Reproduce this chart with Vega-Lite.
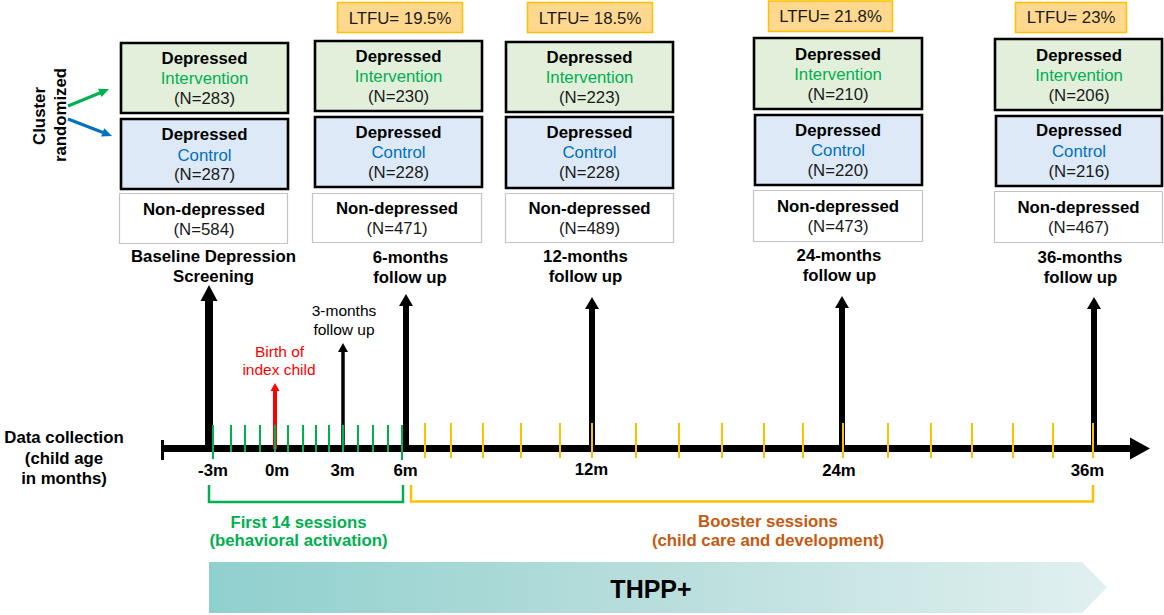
{
  "$schema": "https://vega.github.io/schema/vega-lite/v6.json",
  "width": 1164,
  "height": 615,
  "padding": 0,
  "autosize": {"type": "fit", "contains": "padding"},
  "background": "white",
  "config": {"view": {"stroke": null}},
  "datasets": {
    "band": [
      {"x": 209, "y": 562, "y2": 613},
      {"x": 1082, "y": 562, "y2": 613},
      {"x": 1107, "y": 587.5, "y2": 587.5}
    ],
    "boxes": [
      {"col": "baseline", "kind": "int", "x": 121, "x2": 288, "y": 43, "y2": 113},
      {"col": "baseline", "kind": "ctl", "x": 121, "x2": 288, "y": 119, "y2": 189},
      {"col": "baseline", "kind": "non", "x": 119.5, "x2": 287.5, "y": 193.5, "y2": 243.5},
      {"col": "6m", "kind": "ltfu", "x": 337.5, "x2": 462.5, "y": 2.5, "y2": 32.5},
      {"col": "6m", "kind": "int", "x": 315, "x2": 482, "y": 41, "y2": 111},
      {"col": "6m", "kind": "ctl", "x": 315, "x2": 482, "y": 117, "y2": 187},
      {"col": "6m", "kind": "non", "x": 312.5, "x2": 481.5, "y": 193.5, "y2": 242.5},
      {"col": "12m", "kind": "ltfu", "x": 527.5, "x2": 652.5, "y": 2.5, "y2": 32.5},
      {"col": "12m", "kind": "int", "x": 506, "x2": 673, "y": 42, "y2": 112},
      {"col": "12m", "kind": "ctl", "x": 506, "x2": 673, "y": 117, "y2": 188},
      {"col": "12m", "kind": "non", "x": 505.5, "x2": 673.5, "y": 193.5, "y2": 242.5},
      {"col": "24m", "kind": "ltfu", "x": 768.5, "x2": 892.5, "y": 1, "y2": 31.5},
      {"col": "24m", "kind": "int", "x": 754, "x2": 922, "y": 38, "y2": 109},
      {"col": "24m", "kind": "ctl", "x": 755, "x2": 922, "y": 115, "y2": 185},
      {"col": "24m", "kind": "non", "x": 753.5, "x2": 922.5, "y": 190.5, "y2": 241.5},
      {"col": "36m", "kind": "ltfu", "x": 1015.5, "x2": 1126.5, "y": 2.5, "y2": 32.5},
      {"col": "36m", "kind": "int", "x": 995, "x2": 1162, "y": 39, "y2": 110},
      {"col": "36m", "kind": "ctl", "x": 996, "x2": 1162, "y": 116, "y2": 186},
      {"col": "36m", "kind": "non", "x": 994.5, "x2": 1162.5, "y": 191.5, "y2": 242.5}
    ],
    "timeline": [
      {"x": 162, "x2": 1133, "y": 448.5}
    ],
    "cap": [
      {"x": 162.5, "y": 440, "y2": 460}
    ],
    "axhead": [
      {"x": 1150, "y": 448.5}
    ],
    "shafts": [
      {"kind": "big", "x": 209, "y": 300, "y2": 449},
      {"kind": "mid", "x": 406, "y": 305, "y2": 449},
      {"kind": "mid", "x": 592, "y": 308, "y2": 449},
      {"kind": "mid", "x": 842, "y": 307, "y2": 449},
      {"kind": "mid", "x": 1094, "y": 308, "y2": 449},
      {"kind": "thin", "x": 343, "y": 351, "y2": 449},
      {"kind": "red", "x": 275, "y": 390, "y2": 449}
    ],
    "heads": [
      {"kind": "big", "x": 209, "y": 285},
      {"kind": "mid", "x": 406, "y": 294},
      {"kind": "mid", "x": 592, "y": 297},
      {"kind": "mid", "x": 842, "y": 296},
      {"kind": "mid", "x": 1094, "y": 297},
      {"kind": "thin", "x": 343, "y": 343},
      {"kind": "red", "x": 275, "y": 383}
    ],
    "diag": [
      {"g": "green", "o": 1, "x": 68, "y": 106},
      {"g": "green", "o": 2, "x": 101, "y": 92.5},
      {"g": "blue", "o": 1, "x": 68, "y": 119},
      {"g": "blue", "o": 2, "x": 103, "y": 132.5}
    ],
    "diaghead": [
      {"g": "green", "x": 109, "y": 89},
      {"g": "blue", "x": 112, "y": 136}
    ],
    "ticks": [
      {"kind": "green", "x": 213, "y": 425, "y2": 459},
      {"kind": "green", "x": 231, "y": 425, "y2": 452},
      {"kind": "green", "x": 245, "y": 425, "y2": 452},
      {"kind": "green", "x": 260, "y": 425, "y2": 452},
      {"kind": "green", "x": 275, "y": 425, "y2": 452},
      {"kind": "green", "x": 288, "y": 425, "y2": 452},
      {"kind": "green", "x": 303, "y": 425, "y2": 452},
      {"kind": "green", "x": 316, "y": 425, "y2": 452},
      {"kind": "green", "x": 329, "y": 425, "y2": 452},
      {"kind": "green", "x": 343, "y": 425, "y2": 452},
      {"kind": "green", "x": 358, "y": 425, "y2": 452},
      {"kind": "green", "x": 373, "y": 425, "y2": 452},
      {"kind": "green", "x": 388, "y": 425, "y2": 452},
      {"kind": "green", "x": 402, "y": 425, "y2": 460},
      {"kind": "yellow", "x": 425, "y": 423, "y2": 458},
      {"kind": "yellow", "x": 451, "y": 423, "y2": 458},
      {"kind": "yellow", "x": 483, "y": 423, "y2": 458},
      {"kind": "yellow", "x": 521, "y": 423, "y2": 458},
      {"kind": "yellow", "x": 560, "y": 423, "y2": 458},
      {"kind": "yellow", "x": 592, "y": 423, "y2": 458},
      {"kind": "yellow", "x": 636, "y": 423, "y2": 458},
      {"kind": "yellow", "x": 679, "y": 423, "y2": 458},
      {"kind": "yellow", "x": 722, "y": 423, "y2": 458},
      {"kind": "yellow", "x": 764, "y": 423, "y2": 458},
      {"kind": "yellow", "x": 803, "y": 423, "y2": 458},
      {"kind": "yellow", "x": 843, "y": 423, "y2": 458},
      {"kind": "yellow", "x": 888, "y": 423, "y2": 458},
      {"kind": "yellow", "x": 931, "y": 423, "y2": 458},
      {"kind": "yellow", "x": 972, "y": 423, "y2": 458},
      {"kind": "yellow", "x": 1013, "y": 423, "y2": 458},
      {"kind": "yellow", "x": 1053, "y": 423, "y2": 458},
      {"kind": "yellow", "x": 1093, "y": 423, "y2": 458}
    ],
    "brackets": [
      {"g": "green", "o": 1, "x": 209, "y": 485},
      {"g": "green", "o": 2, "x": 209, "y": 502},
      {"g": "green", "o": 3, "x": 403, "y": 502},
      {"g": "green", "o": 4, "x": 403, "y": 485},
      {"g": "yellow", "o": 1, "x": 411, "y": 485},
      {"g": "yellow", "o": 2, "x": 411, "y": 501.5},
      {"g": "yellow", "o": 3, "x": 1093, "y": 501.5},
      {"g": "yellow", "o": 4, "x": 1093, "y": 485}
    ],
    "texts": [
      {"kind": "bold", "x": 204.5, "y": 64, "label": "Depressed"},
      {"kind": "bold", "x": 204.5, "y": 140, "label": "Depressed"},
      {"kind": "bold", "x": 398.5, "y": 62, "label": "Depressed"},
      {"kind": "bold", "x": 398.5, "y": 138, "label": "Depressed"},
      {"kind": "bold", "x": 589.5, "y": 63, "label": "Depressed"},
      {"kind": "bold", "x": 589.5, "y": 138, "label": "Depressed"},
      {"kind": "bold", "x": 838, "y": 60, "label": "Depressed"},
      {"kind": "bold", "x": 838, "y": 136, "label": "Depressed"},
      {"kind": "bold", "x": 1079, "y": 61, "label": "Depressed"},
      {"kind": "bold", "x": 1079, "y": 136, "label": "Depressed"},
      {"kind": "bold", "x": 204, "y": 215, "label": "Non-depressed"},
      {"kind": "bold", "x": 397, "y": 214, "label": "Non-depressed"},
      {"kind": "bold", "x": 589.5, "y": 214, "label": "Non-depressed"},
      {"kind": "bold", "x": 838, "y": 212, "label": "Non-depressed"},
      {"kind": "bold", "x": 1078.5, "y": 213, "label": "Non-depressed"},
      {"kind": "bold", "x": 213.5, "y": 262, "label": "Baseline Depression"},
      {"kind": "bold", "x": 213.5, "y": 282, "label": "Screening"},
      {"kind": "bold", "x": 410.5, "y": 263, "label": "6-months"},
      {"kind": "bold", "x": 410, "y": 283, "label": "follow up"},
      {"kind": "bold", "x": 585.5, "y": 262, "label": "12-months"},
      {"kind": "bold", "x": 585.5, "y": 282, "label": "follow up"},
      {"kind": "bold", "x": 839, "y": 261, "label": "24-months"},
      {"kind": "bold", "x": 839.5, "y": 281, "label": "follow up"},
      {"kind": "bold", "x": 1080, "y": 263, "label": "36-months"},
      {"kind": "bold", "x": 1080.5, "y": 283, "label": "follow up"},
      {"kind": "bold", "x": 64, "y": 443, "label": "Data collection"},
      {"kind": "bold", "x": 64, "y": 464, "label": "(child age"},
      {"kind": "bold", "x": 64, "y": 484, "label": "in months)"},
      {"kind": "bold", "x": 213, "y": 476, "label": "-3m"},
      {"kind": "bold", "x": 277, "y": 476, "label": "0m"},
      {"kind": "bold", "x": 342.5, "y": 476, "label": "3m"},
      {"kind": "bold", "x": 405.5, "y": 476, "label": "6m"},
      {"kind": "bold", "x": 591.5, "y": 475, "label": "12m"},
      {"kind": "bold", "x": 839, "y": 476, "label": "24m"},
      {"kind": "bold", "x": 1087.5, "y": 476, "label": "36m"},
      {"kind": "int", "x": 204.5, "y": 84, "label": "Intervention"},
      {"kind": "int", "x": 398.5, "y": 82, "label": "Intervention"},
      {"kind": "int", "x": 589.5, "y": 83, "label": "Intervention"},
      {"kind": "int", "x": 838, "y": 80, "label": "Intervention"},
      {"kind": "int", "x": 1079, "y": 81, "label": "Intervention"},
      {"kind": "ctl", "x": 204.5, "y": 161, "label": "Control"},
      {"kind": "ctl", "x": 398.5, "y": 158, "label": "Control"},
      {"kind": "ctl", "x": 589.5, "y": 158, "label": "Control"},
      {"kind": "ctl", "x": 838, "y": 156, "label": "Control"},
      {"kind": "ctl", "x": 1079, "y": 157, "label": "Control"},
      {"kind": "n", "x": 204.5, "y": 104, "label": "(N=283)"},
      {"kind": "n", "x": 204.5, "y": 180, "label": "(N=287)"},
      {"kind": "n", "x": 204, "y": 235, "label": "(N=584)"},
      {"kind": "n", "x": 398.5, "y": 102, "label": "(N=230)"},
      {"kind": "n", "x": 398.5, "y": 178, "label": "(N=228)"},
      {"kind": "n", "x": 397, "y": 234, "label": "(N=471)"},
      {"kind": "n", "x": 589.5, "y": 103, "label": "(N=223)"},
      {"kind": "n", "x": 589.5, "y": 178, "label": "(N=228)"},
      {"kind": "n", "x": 589.5, "y": 234, "label": "(N=489)"},
      {"kind": "n", "x": 838, "y": 100, "label": "(N=210)"},
      {"kind": "n", "x": 838, "y": 176, "label": "(N=220)"},
      {"kind": "n", "x": 838, "y": 232, "label": "(N=473)"},
      {"kind": "n", "x": 1079, "y": 101, "label": "(N=206)"},
      {"kind": "n", "x": 1079, "y": 177, "label": "(N=216)"},
      {"kind": "n", "x": 1078.5, "y": 233, "label": "(N=467)"},
      {"kind": "n", "x": 400, "y": 24, "label": "LTFU= 19.5%"},
      {"kind": "n", "x": 590, "y": 24, "label": "LTFU= 18.5%"},
      {"kind": "n", "x": 830.5, "y": 22, "label": "LTFU= 21.8%"},
      {"kind": "n", "x": 1071, "y": 23, "label": "LTFU= 23%"},
      {"kind": "small", "x": 344, "y": 316, "label": "3-months"},
      {"kind": "small", "x": 344, "y": 335, "label": "follow up"},
      {"kind": "red", "x": 279.5, "y": 357, "label": "Birth of"},
      {"kind": "red", "x": 279, "y": 375, "label": "index child"},
      {"kind": "sess", "x": 298.5, "y": 528, "label": "First 14 sessions"},
      {"kind": "sess", "x": 298.5, "y": 546, "label": "(behavioral activation)"},
      {"kind": "boost", "x": 768, "y": 527, "label": "Booster sessions"},
      {"kind": "boost", "x": 768, "y": 546, "label": "(child care and development)"},
      {"kind": "thpp", "x": 651, "y": 598, "label": "THPP+"},
      {"kind": "rot", "x": 45, "y": 116, "label": "Cluster"},
      {"kind": "rot", "x": 65.5, "y": 115, "label": "randomized"}
    ]
  },
  "encoding": {
    "x": {"field": "x", "type": "quantitative", "scale": {"domain": [0, 1164], "nice": false, "zero": false}, "axis": null},
    "y": {"field": "y", "type": "quantitative", "scale": {"domain": [0, 615], "nice": false, "zero": false, "reverse": true}, "axis": null}
  },
  "layer": [
    {
      "data": {"name": "band"},
      "mark": {"type": "area", "color": {"gradient": "linear", "x1": 0, "y1": 0, "x2": 1, "y2": 0, "stops": [{"offset": 0, "color": "#8fd0ce"}, {"offset": 0.5, "color": "#b8dedc"}, {"offset": 1, "color": "#e1f0f0"}]}, "opacity": 1},
      "encoding": {"y2": {"field": "y2"}}
    },
    {
      "data": {"name": "boxes"},
      "transform": [{"filter": "datum.kind === 'int'"}],
      "mark": {"type": "rect", "fill": "#e2efda", "stroke": "#000000", "strokeWidth": 2.6},
      "encoding": {"x2": {"field": "x2"}, "y2": {"field": "y2"}}
    },
    {
      "data": {"name": "boxes"},
      "transform": [{"filter": "datum.kind === 'ctl'"}],
      "mark": {"type": "rect", "fill": "#dde9f6", "stroke": "#000000", "strokeWidth": 2.6},
      "encoding": {"x2": {"field": "x2"}, "y2": {"field": "y2"}}
    },
    {
      "data": {"name": "boxes"},
      "transform": [{"filter": "datum.kind === 'non'"}],
      "mark": {"type": "rect", "fill": "#ffffff", "stroke": "#c4c4c4", "strokeWidth": 1.2},
      "encoding": {"x2": {"field": "x2"}, "y2": {"field": "y2"}}
    },
    {
      "data": {"name": "boxes"},
      "transform": [{"filter": "datum.kind === 'ltfu'"}],
      "mark": {"type": "rect", "fill": "#fed88e", "stroke": "#ffc000", "strokeWidth": 1.5},
      "encoding": {"x2": {"field": "x2"}, "y2": {"field": "y2"}}
    },
    {
      "data": {"name": "timeline"},
      "mark": {"type": "rule", "color": "#000000", "strokeWidth": 7},
      "encoding": {"x2": {"field": "x2"}}
    },
    {
      "data": {"name": "cap"},
      "mark": {"type": "rule", "color": "#000000", "strokeWidth": 3},
      "encoding": {"y2": {"field": "y2"}}
    },
    {
      "data": {"name": "axhead"},
      "mark": {"type": "point", "shape": "M0,0L-1,-0.55L-1,0.55Z", "size": 1600, "filled": true, "color": "#000000", "opacity": 1, "strokeWidth": 0},
      "encoding": {}
    },
    {
      "data": {"name": "shafts"},
      "transform": [{"filter": "datum.kind === 'big'"}],
      "mark": {"type": "rule", "color": "#000000", "strokeWidth": 8},
      "encoding": {"y2": {"field": "y2"}}
    },
    {
      "data": {"name": "shafts"},
      "transform": [{"filter": "datum.kind === 'mid'"}],
      "mark": {"type": "rule", "color": "#000000", "strokeWidth": 6},
      "encoding": {"y2": {"field": "y2"}}
    },
    {
      "data": {"name": "shafts"},
      "transform": [{"filter": "datum.kind === 'thin'"}],
      "mark": {"type": "rule", "color": "#000000", "strokeWidth": 3.5},
      "encoding": {"y2": {"field": "y2"}}
    },
    {
      "data": {"name": "shafts"},
      "transform": [{"filter": "datum.kind === 'red'"}],
      "mark": {"type": "rule", "color": "#ff0000", "strokeWidth": 4},
      "encoding": {"y2": {"field": "y2"}}
    },
    {
      "data": {"name": "heads"},
      "transform": [{"filter": "datum.kind === 'big'"}],
      "mark": {"type": "point", "shape": "M0,0L-0.53,1L0.53,1Z", "size": 1024, "filled": true, "color": "#000000", "opacity": 1, "strokeWidth": 0},
      "encoding": {}
    },
    {
      "data": {"name": "heads"},
      "transform": [{"filter": "datum.kind === 'mid'"}],
      "mark": {"type": "point", "shape": "M0,0L-0.583,1L0.583,1Z", "size": 576, "filled": true, "color": "#000000", "opacity": 1, "strokeWidth": 0},
      "encoding": {}
    },
    {
      "data": {"name": "heads"},
      "transform": [{"filter": "datum.kind === 'thin'"}],
      "mark": {"type": "point", "shape": "M0,0L-0.556,1L0.556,1Z", "size": 324, "filled": true, "color": "#000000", "opacity": 1, "strokeWidth": 0},
      "encoding": {}
    },
    {
      "data": {"name": "heads"},
      "transform": [{"filter": "datum.kind === 'red'"}],
      "mark": {"type": "point", "shape": "M0,0L-0.5625,1L0.5625,1Z", "size": 256, "filled": true, "color": "#ff0000", "opacity": 1, "strokeWidth": 0},
      "encoding": {}
    },
    {
      "data": {"name": "ticks"},
      "transform": [{"filter": "datum.kind === 'green'"}],
      "mark": {"type": "rule", "color": "#00b050", "strokeWidth": 2},
      "encoding": {"y2": {"field": "y2"}}
    },
    {
      "data": {"name": "ticks"},
      "transform": [{"filter": "datum.kind === 'yellow'"}],
      "mark": {"type": "rule", "color": "#ffc000", "strokeWidth": 2},
      "encoding": {"y2": {"field": "y2"}}
    },
    {
      "data": {"name": "diag"},
      "transform": [{"filter": "datum.g === 'green'"}],
      "mark": {"type": "line", "color": "#00b050", "strokeWidth": 3},
      "encoding": {"order": {"field": "o", "type": "quantitative"}}
    },
    {
      "data": {"name": "diag"},
      "transform": [{"filter": "datum.g === 'blue'"}],
      "mark": {"type": "line", "color": "#0070c0", "strokeWidth": 3},
      "encoding": {"order": {"field": "o", "type": "quantitative"}}
    },
    {
      "data": {"name": "diaghead"},
      "transform": [{"filter": "datum.g === 'green'"}],
      "mark": {"type": "point", "shape": "M0,0L-0.45,1L0.45,1Z", "size": 400, "angle": 67.5, "filled": true, "color": "#00b050", "opacity": 1, "strokeWidth": 0},
      "encoding": {}
    },
    {
      "data": {"name": "diaghead"},
      "transform": [{"filter": "datum.g === 'blue'"}],
      "mark": {"type": "point", "shape": "M0,0L-0.45,1L0.45,1Z", "size": 400, "angle": 111, "filled": true, "color": "#0070c0", "opacity": 1, "strokeWidth": 0},
      "encoding": {}
    },
    {
      "data": {"name": "brackets"},
      "transform": [{"filter": "datum.g === 'green'"}],
      "mark": {"type": "line", "color": "#00b050", "strokeWidth": 2.5, "strokeJoin": "miter"},
      "encoding": {"order": {"field": "o", "type": "quantitative"}}
    },
    {
      "data": {"name": "brackets"},
      "transform": [{"filter": "datum.g === 'yellow'"}],
      "mark": {"type": "line", "color": "#ffc000", "strokeWidth": 2.5, "strokeJoin": "miter"},
      "encoding": {"order": {"field": "o", "type": "quantitative"}}
    },
    {
      "data": {"name": "texts"},
      "transform": [{"filter": "datum.kind === 'bold'"}],
      "mark": {"type": "text", "font": "Liberation Sans", "fontSize": 16.8, "fontWeight": "bold", "color": "#000000", "align": "center", "baseline": "alphabetic"},
      "encoding": {"text": {"field": "label"}}
    },
    {
      "data": {"name": "texts"},
      "transform": [{"filter": "datum.kind === 'int'"}],
      "mark": {"type": "text", "font": "Liberation Sans", "fontSize": 16.8, "color": "#00b050", "align": "center", "baseline": "alphabetic"},
      "encoding": {"text": {"field": "label"}}
    },
    {
      "data": {"name": "texts"},
      "transform": [{"filter": "datum.kind === 'ctl'"}],
      "mark": {"type": "text", "font": "Liberation Sans", "fontSize": 16.8, "color": "#0070c0", "align": "center", "baseline": "alphabetic"},
      "encoding": {"text": {"field": "label"}}
    },
    {
      "data": {"name": "texts"},
      "transform": [{"filter": "datum.kind === 'n'"}],
      "mark": {"type": "text", "font": "Liberation Sans", "fontSize": 16.8, "color": "#1a1a1a", "align": "center", "baseline": "alphabetic"},
      "encoding": {"text": {"field": "label"}}
    },
    {
      "data": {"name": "texts"},
      "transform": [{"filter": "datum.kind === 'small'"}],
      "mark": {"type": "text", "font": "Liberation Sans", "fontSize": 15.5, "color": "#000000", "align": "center", "baseline": "alphabetic"},
      "encoding": {"text": {"field": "label"}}
    },
    {
      "data": {"name": "texts"},
      "transform": [{"filter": "datum.kind === 'red'"}],
      "mark": {"type": "text", "font": "Liberation Sans", "fontSize": 15.5, "color": "#ff0000", "align": "center", "baseline": "alphabetic"},
      "encoding": {"text": {"field": "label"}}
    },
    {
      "data": {"name": "texts"},
      "transform": [{"filter": "datum.kind === 'sess'"}],
      "mark": {"type": "text", "font": "Liberation Sans", "fontSize": 16.8, "fontWeight": "bold", "color": "#00b050", "align": "center", "baseline": "alphabetic"},
      "encoding": {"text": {"field": "label"}}
    },
    {
      "data": {"name": "texts"},
      "transform": [{"filter": "datum.kind === 'boost'"}],
      "mark": {"type": "text", "font": "Liberation Sans", "fontSize": 16.8, "fontWeight": "bold", "color": "#c55a11", "align": "center", "baseline": "alphabetic"},
      "encoding": {"text": {"field": "label"}}
    },
    {
      "data": {"name": "texts"},
      "transform": [{"filter": "datum.kind === 'thpp'"}],
      "mark": {"type": "text", "font": "Liberation Sans", "fontSize": 25, "fontWeight": "bold", "color": "#000000", "align": "center", "baseline": "alphabetic"},
      "encoding": {"text": {"field": "label"}}
    },
    {
      "data": {"name": "texts"},
      "transform": [{"filter": "datum.kind === 'rot'"}],
      "mark": {"type": "text", "font": "Liberation Sans", "fontSize": 16.8, "fontWeight": "bold", "color": "#000000", "align": "center", "baseline": "alphabetic", "angle": 270},
      "encoding": {"text": {"field": "label"}}
    }
  ]
}
